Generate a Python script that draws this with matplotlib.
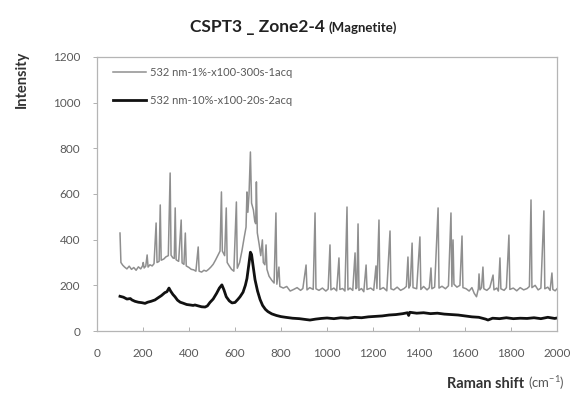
import matplotlib
matplotlib.use("Agg")
import matplotlib.pyplot as plt

# ---- data -------------------------------------------------------------
shift_1pct = [100, 104, 112, 120, 130, 140, 150, 160, 170, 180, 190, 198, 201, 205, 212, 218, 222,
              230, 240, 248, 257, 261, 270, 275, 279, 290, 300, 310, 318, 322, 330, 336, 340, 344,
              355, 366, 370, 378, 384, 388, 400, 410, 420, 430, 440, 444, 455, 465, 475, 485, 495,
              505, 515, 525, 535, 541, 545, 555, 562, 566, 575, 585, 595, 606, 610, 620, 630, 640,
              648, 652, 656, 661, 667, 672, 680, 686, 690, 693, 697, 705, 712, 719, 723, 730, 735,
              739, 748, 760, 770, 778, 782, 791, 795, 810, 825, 840, 855, 870, 885, 895, 909, 913,
              925, 940, 948, 952, 965, 980, 995, 1005, 1013, 1017, 1030, 1042, 1052, 1056, 1068,
              1078, 1087, 1091, 1100, 1112, 1122, 1126, 1130, 1135, 1139, 1150, 1160, 1170, 1174,
              1190, 1203, 1213, 1217, 1226, 1230, 1245, 1260, 1274, 1278, 1290, 1305, 1320, 1335,
              1345, 1352, 1356, 1362, 1370, 1374, 1390, 1404, 1408, 1420, 1435, 1445, 1452, 1456,
              1468, 1483, 1487, 1500, 1515, 1528, 1539, 1543, 1548, 1552, 1565, 1578, 1587, 1591,
              1605, 1618, 1630, 1640, 1650, 1658, 1661, 1665, 1672, 1678, 1682, 1695, 1708, 1722,
              1726, 1738, 1745, 1752, 1756, 1770, 1780, 1791, 1795, 1810, 1825, 1840, 1855, 1870,
              1880, 1887, 1891, 1905, 1918, 1930, 1943, 1947, 1960, 1970, 1978, 1982, 1992, 2000]
intensity_1pct = [429, 300, 288, 280, 272, 284, 270, 278, 266, 281, 272, 285, 300, 276, 284, 333, 280,
                  290, 285, 295, 473, 300, 305, 552, 310, 315, 325, 330, 692, 332, 320, 318, 539, 312,
                  305, 486, 298, 292, 429, 285, 278, 270, 268, 262, 368, 262, 258, 266, 262, 270, 280,
                  292, 310, 330, 350, 609, 350, 330, 539, 300, 285, 270, 262, 565, 275, 300, 350, 410,
                  455, 609, 520, 600, 784, 560, 530, 480, 470, 653, 430, 380, 330, 399, 300, 290, 377,
                  270, 240, 222, 210, 517, 205, 280, 195, 188, 195, 175, 182, 190, 178, 186, 289, 180,
                  190, 182, 517, 185, 178, 188, 175, 184, 377, 180, 188, 176, 320, 182, 186,
                  175, 543, 180, 188, 178, 342, 185, 190, 469, 178, 186, 172, 289, 182,
                  188, 178, 285, 186, 486, 182, 190, 176, 438, 185, 180, 192, 178, 186,
                  195, 324, 188, 200, 385, 190, 185, 412, 182, 195, 180, 190, 276, 185,
                  192, 539, 188, 196, 185, 198, 517, 195, 399, 205, 192, 200, 416, 190,
                  185, 175, 190, 165, 150, 185, 250, 180, 190, 280, 185, 178, 190, 245,
                  180, 188, 175, 320, 185, 178, 190, 420, 182, 188, 176, 190, 180, 186,
                  195, 574, 190, 200, 180, 188, 526, 185, 192, 178, 254, 182, 176, 185]

shift_10pct = [100, 115, 130, 145, 152, 165, 180, 195, 209, 220, 235, 252, 265, 280, 295, 304, 313,
               320, 330, 339, 350, 362, 374, 390, 405, 418, 426, 440, 455, 470, 480, 491, 505, 520,
               532, 543, 552, 562, 575, 587, 600, 612, 622, 635, 645, 652, 660, 667, 672, 678, 687,
               698, 709, 720, 732, 743, 760, 780, 800, 820, 850, 880, 910, 926, 950, 975, 1000,
               1030, 1060, 1090, 1120, 1150, 1180, 1210, 1240, 1270, 1300, 1330, 1350, 1355, 1360,
               1390, 1420, 1450, 1480, 1510, 1540, 1570, 1600, 1630, 1660, 1690, 1700, 1720, 1750,
               1780, 1810, 1840, 1870, 1900, 1930, 1960, 1990, 2000]
intensity_10pct = [152, 148, 140, 142, 136, 130, 126, 124, 121, 126, 130, 136, 145, 155, 168, 172, 188,
                   175, 160, 150, 135, 126, 122, 116, 114, 112, 114, 110, 106, 105, 110, 125, 140, 165,
                   188, 202, 180, 150, 132, 123, 125, 138, 150, 170, 200, 230, 290, 345, 335, 290, 225,
                   175, 138, 112, 95, 85, 75, 68, 63, 60, 56, 54, 50, 48, 52, 55, 57,
                   54, 58, 56, 60, 58, 62, 64, 66, 70, 72, 76, 80, 68, 82,
                   78, 80, 76, 78, 74, 72, 70, 66, 62, 60, 52, 48, 56, 54,
                   58, 54, 56, 55, 58, 54, 60, 55, 57]

series_labels = ["532 nm-1%-x100-300s-1acq", "532 nm-10%-x100-20s-2acq"]
x_ticks = [0, 200, 400, 600, 800, 1000, 1200, 1400, 1600, 1800, 2000]
y_ticks = [0, 200, 400, 600, 800, 1000, 1200]

# ---- figure -----------------------------------------------------------
plt.rcParams['font.family'] = ['Lato', 'DejaVu Sans']
W, H = 578, 403
fig = plt.figure(figsize=(W / 100, H / 100), dpi=100)
fig.patch.set_facecolor('white')

L, R, T, B = 97, 557, 57, 331
ax = fig.add_axes([L / W, (H - B) / H, (R - L) / W, (B - T) / H])

ax.plot(shift_1pct, intensity_1pct, color='#8f8f8f', lw=1.1, label=series_labels[0])
ax.plot(shift_10pct, intensity_10pct, color='#111111', lw=2.0, label=series_labels[1])

ax.set_xlim(0, 2000)
ax.set_ylim(0, 1200)
ax.set_xticks(x_ticks)
ax.set_yticks(y_ticks)
ax.tick_params(axis='x', direction='in', length=3, width=0.7, color='#b0b0b0',
               labelsize=8.5, labelcolor='#595959', pad=12)
ax.tick_params(axis='y', direction='out', length=3, width=0.7, color='#b0b0b0',
               labelsize=8.5, labelcolor='#595959', pad=9)
for s in ax.spines.values():
    s.set_color('#b5b5b5')
    s.set_linewidth(0.9)

leg = ax.legend(loc='upper left', bbox_to_anchor=(0.035, 0.965), frameon=False,
                fontsize=8, handlelength=3.0, handletextpad=0.3, labelspacing=1.6,
                borderpad=0, borderaxespad=0)
for t in leg.get_texts():
    t.set_color('#595959')

# title
fig.text(325 / W, (H - 32) / H, "CSPT3 _ Zone2-4", ha='right', va='baseline',
         fontsize=12.5, fontweight='bold', color='#222222')
fig.text(329 / W, (H - 32) / H, "(Magnetite)", ha='left', va='baseline',
         fontsize=9.5, fontweight='bold', color='#222222')

# axis labels
fig.text(22 / W, (H - 51) / H, "Intensity", rotation=90, ha='center', va='top',
         fontsize=10.5, fontweight='bold', color='#333333')
fig.text(524 / W, (H - 388) / H, "Raman shift", ha='right', va='baseline',
         fontsize=10.5, fontweight='bold', color='#333333')
fig.text(528 / W, (H - 388) / H, r"(cm$^{\mathregular{-1}}$)", ha='left', va='baseline',
         fontsize=9.5, color='#595959')

fig.savefig("out.png", dpi=100)
